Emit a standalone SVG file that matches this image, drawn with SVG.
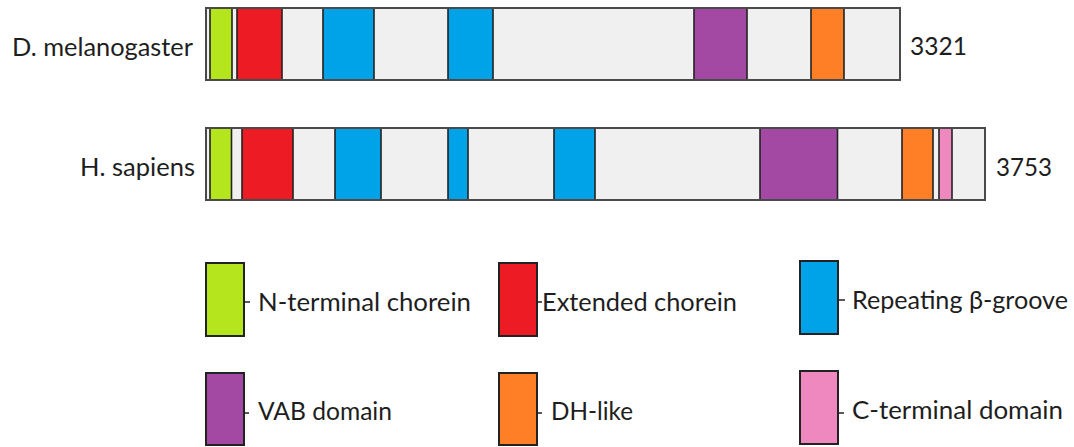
<svg xmlns="http://www.w3.org/2000/svg" width="1074" height="447" viewBox="0 0 1074 447">
  <style>
    text { font-family: Lato, "Open Sans", "Liberation Sans", sans-serif; font-size: 25px; fill: #1e1e1e; }
    .bar { fill: #f0f0f0; stroke: #4a4a4a; stroke-width: 2; }
    .seg { stroke: #222; stroke-width: 1.6; }
    .key { stroke: #222; stroke-width: 2; }
    .tick { stroke: #222; stroke-width: 1.5; }
    .nterm { fill: #b5e61d; }
    .ext { fill: #ed1c24; }
    .beta { fill: #00a2e8; }
    .vab { fill: #a349a4; }
    .dh { fill: #ff7f27; }
    .cterm { fill: #ef88bf; }
    .gap { fill: #f0f0f0; }
  </style>

  <!-- Drosophila protein -->
  <g id="d-melanogaster">
    <text x="12" y="56" textLength="181" lengthAdjust="spacingAndGlyphs">D. melanogaster</text>
    <rect class="bar" x="206" y="8" width="694" height="72"/>
    <rect class="seg nterm" x="210" y="8" width="22" height="72"/>
    <rect class="seg ext" x="237" y="8" width="45" height="72"/>
    <rect class="seg beta" x="323" y="8" width="51" height="72"/>
    <rect class="seg beta" x="448" y="8" width="45" height="72"/>
    <rect class="seg vab" x="694" y="8" width="53" height="72"/>
    <rect class="seg dh" x="811" y="8" width="33" height="72"/>
    <rect x="206" y="8" width="694" height="72" fill="none" stroke="#4a4a4a" stroke-width="2"/>
    <text x="910" y="55" textLength="57" lengthAdjust="spacingAndGlyphs">3321</text>
  </g>

  <!-- Human protein -->
  <g id="h-sapiens">
    <text x="80" y="176" textLength="115" lengthAdjust="spacingAndGlyphs">H. sapiens</text>
    <rect class="bar" x="206" y="128" width="779" height="72"/>
    <rect class="seg nterm" x="210" y="128" width="21.5" height="72"/>
    <rect class="seg ext" x="242" y="128" width="51" height="72"/>
    <rect class="seg beta" x="335" y="128" width="46" height="72"/>
    <rect class="seg beta" x="448" y="128" width="20" height="72"/>
    <rect class="seg beta" x="554" y="128" width="41" height="72"/>
    <rect class="seg vab" x="760" y="128" width="77.5" height="72"/>
    <rect class="seg dh" x="902" y="128" width="31" height="72"/>
    <rect class="seg cterm" x="939" y="128" width="13" height="72"/>
    <rect x="206" y="128" width="779" height="72" fill="none" stroke="#4a4a4a" stroke-width="2"/>
    <text x="996" y="176" textLength="56" lengthAdjust="spacingAndGlyphs">3753</text>
  </g>

  <!-- Legend -->
  <g id="legend-n-terminal">
    <rect class="key nterm" x="206" y="263" width="38" height="73"/>
    <line class="tick" x1="244" y1="302" x2="250" y2="302"/>
    <text x="258" y="311" textLength="213" lengthAdjust="spacingAndGlyphs">N-terminal chorein</text>
  </g>
  <g id="legend-extended">
    <rect class="key ext" x="499" y="263" width="38" height="73"/>
    <line class="tick" x1="537" y1="302" x2="542" y2="302"/>
    <text x="542" y="311" textLength="195" lengthAdjust="spacingAndGlyphs">Extended chorein</text>
  </g>
  <g id="legend-beta-groove">
    <rect class="key beta" x="800" y="261" width="38" height="73"/>
    <line class="tick" x1="838" y1="300" x2="845" y2="300"/>
    <text x="852" y="309" textLength="216" lengthAdjust="spacingAndGlyphs">Repeating β-groove</text>
  </g>
  <g id="legend-vab">
    <rect class="key vab" x="206" y="373" width="38" height="72"/>
    <line class="tick" x1="244" y1="413" x2="249" y2="413"/>
    <text x="258" y="420" textLength="134" lengthAdjust="spacingAndGlyphs">VAB domain</text>
  </g>
  <g id="legend-dh">
    <rect class="key dh" x="499" y="373" width="38" height="72"/>
    <line class="tick" x1="537" y1="413" x2="542" y2="413"/>
    <text x="551" y="420" textLength="82" lengthAdjust="spacingAndGlyphs">DH-like</text>
  </g>
  <g id="legend-c-terminal">
    <rect class="key cterm" x="800" y="371" width="38" height="73"/>
    <line class="tick" x1="838" y1="413" x2="844" y2="413"/>
    <text x="852" y="419" textLength="211" lengthAdjust="spacingAndGlyphs">C-terminal domain</text>
  </g>
</svg>
